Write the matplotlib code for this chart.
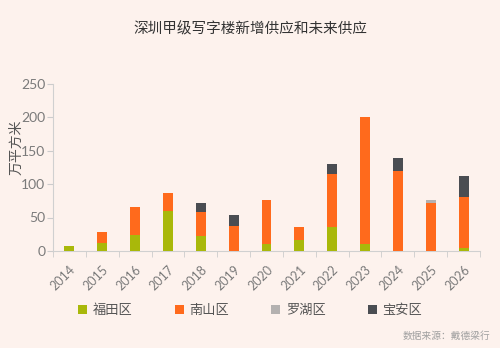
import numpy as np
import matplotlib.pyplot as plt

plt.rcParams['font.family'] = ['Noto Sans CJK SC', 'DejaVu Sans']

years = ['2014', '2015', '2016', '2017', '2018', '2019', '2020',
         '2021', '2022', '2023', '2024', '2025', '2026']
# 万平方米
futian = [8, 12, 24, 60, 23, 0, 10, 16, 36, 10, 0, 0, 5]
nanshan = [0, 16, 41, 26, 35, 38, 66, 20, 79, 191, 120, 72, 75]
luohu = [0, 0, 0, 0, 0, 0, 0, 0, 0, 0, 0, 4, 0]
baoan = [0, 0, 0, 0, 13, 16, 0, 0, 15, 0, 19, 0, 32]

series = [('福田区', futian, '#a9b80a'),
          ('南山区', nanshan, '#ff6a1c'),
          ('罗湖区', luohu, '#b4b1b0'),
          ('宝安区', baoan, '#4a4d52')]

bg = '#fdf2ed'
fig = plt.figure(figsize=(5, 3.48), dpi=100, facecolor=bg)
ax = fig.add_axes([0.106, 0.279, 0.854, 0.48], facecolor=bg)

x = np.arange(len(years))
bottom = np.zeros(len(years))
for name, vals, col in series:
    vals = np.array(vals, dtype=float)
    ax.bar(x, vals, width=0.3, bottom=bottom, color=col, label=name, zorder=3)
    bottom += vals

ax.set_xlim(-0.5, len(years) - 0.5)
ax.set_ylim(0, 250)
ax.set_yticks([0, 50, 100, 150, 200, 250])
ax.set_xticks(x)
ax.set_xticklabels(years, rotation=45, ha='right', rotation_mode='anchor',
                   family='Lato')
ax.set_yticklabels(['0', '50', '100', '150', '200', '250'], family='Lato')
ax.set_xticks(np.arange(-0.5, len(years)), minor=True)
ax.tick_params(axis='x', which='major', length=0, pad=9, labelsize=9, labelcolor='#7a7a7a')
ax.tick_params(axis='x', which='minor', length=4, color='#cccccc')
ax.tick_params(axis='y', length=4, color='#cccccc', labelsize=10, labelcolor='#7a7a7a', pad=1.5)

for s in ['top', 'right']:
    ax.spines[s].set_visible(False)
for s in ['left', 'bottom']:
    ax.spines[s].set_color('#d0d0d0')
    ax.spines[s].set_linewidth(0.8)

ax.set_ylabel('万平方米', fontsize=10, color='#555555')
ax.yaxis.set_label_coords(-0.07, 0.62)

fig.text(0.5, 0.915, '深圳甲级写字楼新增供应和未来供应', ha='center', va='center',
         fontsize=10.5, color='#333333', fontweight='medium')

fig.legend(loc='center', bbox_to_anchor=(0.5, 0.108), ncol=4, frameon=False,
           handlelength=0.7, handleheight=0.7, handletextpad=0.4, columnspacing=3.2,
           fontsize=9.5, labelcolor='#555555')

fig.text(0.98, 0.035, '数据来源：戴德梁行', ha='right', va='center',
         fontsize=7, color='#a0a0a0')

fig.savefig('out.png', dpi=100, facecolor=bg)
